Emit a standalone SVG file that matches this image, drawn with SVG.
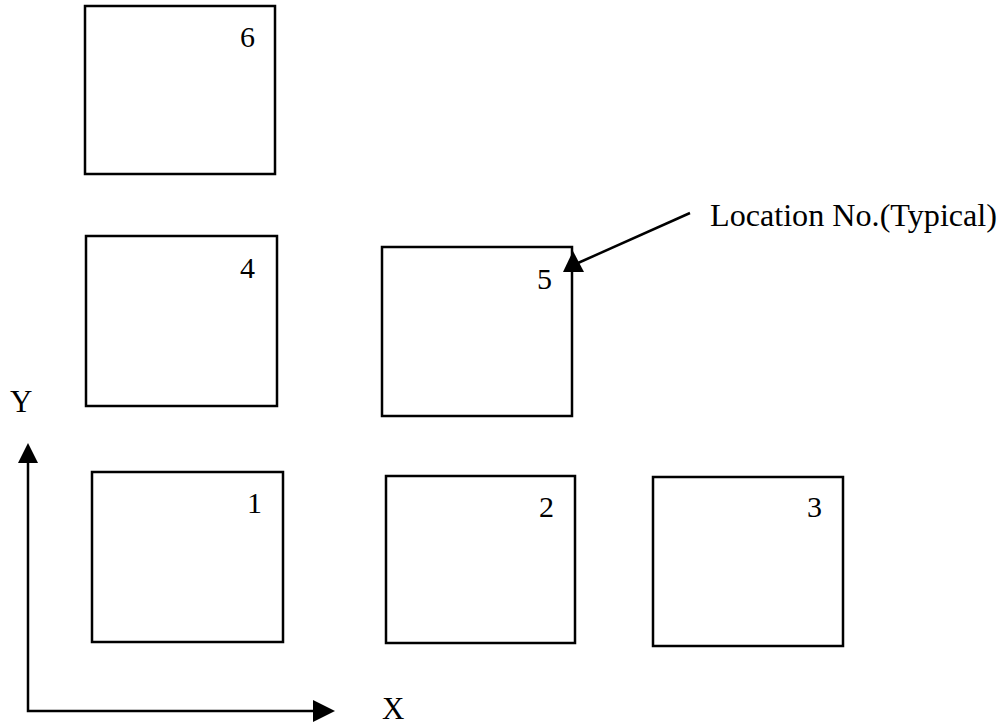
<svg xmlns="http://www.w3.org/2000/svg" width="1005" height="727" viewBox="0 0 1005 727">
<style>
.box{fill:none;stroke:#000;stroke-width:2.5}
.num{font-family:"Liberation Serif",serif;font-size:30px;fill:#000}
.lbl{font-family:"Liberation Serif",serif;font-size:31px;fill:#000}
.ln{stroke:#000;stroke-width:2.5;fill:none}
.ah{fill:#000;stroke:none}
</style>
<rect width="1005" height="727" fill="#fff"/>
<g id="node6"><rect class="box" x="85" y="6" width="190" height="168"/><text class="num" x="240" y="47">6</text></g>
<g id="node4"><rect class="box" x="86" y="236" width="191" height="170"/><text class="num" x="240" y="278">4</text></g>
<g id="node5"><rect class="box" x="382" y="247" width="190" height="169"/><text class="num" x="537" y="289">5</text></g>
<g id="node1"><rect class="box" x="92" y="472" width="191" height="170"/><text class="num" x="247" y="513">1</text></g>
<g id="node2"><rect class="box" x="386" y="476" width="189" height="167"/><text class="num" x="539" y="517">2</text></g>
<g id="node3"><rect class="box" x="653" y="477" width="190" height="169"/><text class="num" x="807" y="517">3</text></g>
<g id="callout"><text class="lbl" x="710" y="226" textLength="287" lengthAdjust="spacingAndGlyphs">Location No.(Typical)</text></g>
<g id="axes"><text class="lbl" x="10" y="412">Y</text><text class="lbl" x="382" y="719">X</text></g>
<g id="connectors">
<line class="ln" x1="690" y1="213" x2="578" y2="263"/>
<polygon class="ah" points="573,251 584,272 563,272"/>
<polyline class="ln" points="28,463 28,711 313,711"/>
<polygon class="ah" points="28,443 38,463 18,463"/>
<polygon class="ah" points="335,711 313,700 313,722"/>
</g>
</svg>
